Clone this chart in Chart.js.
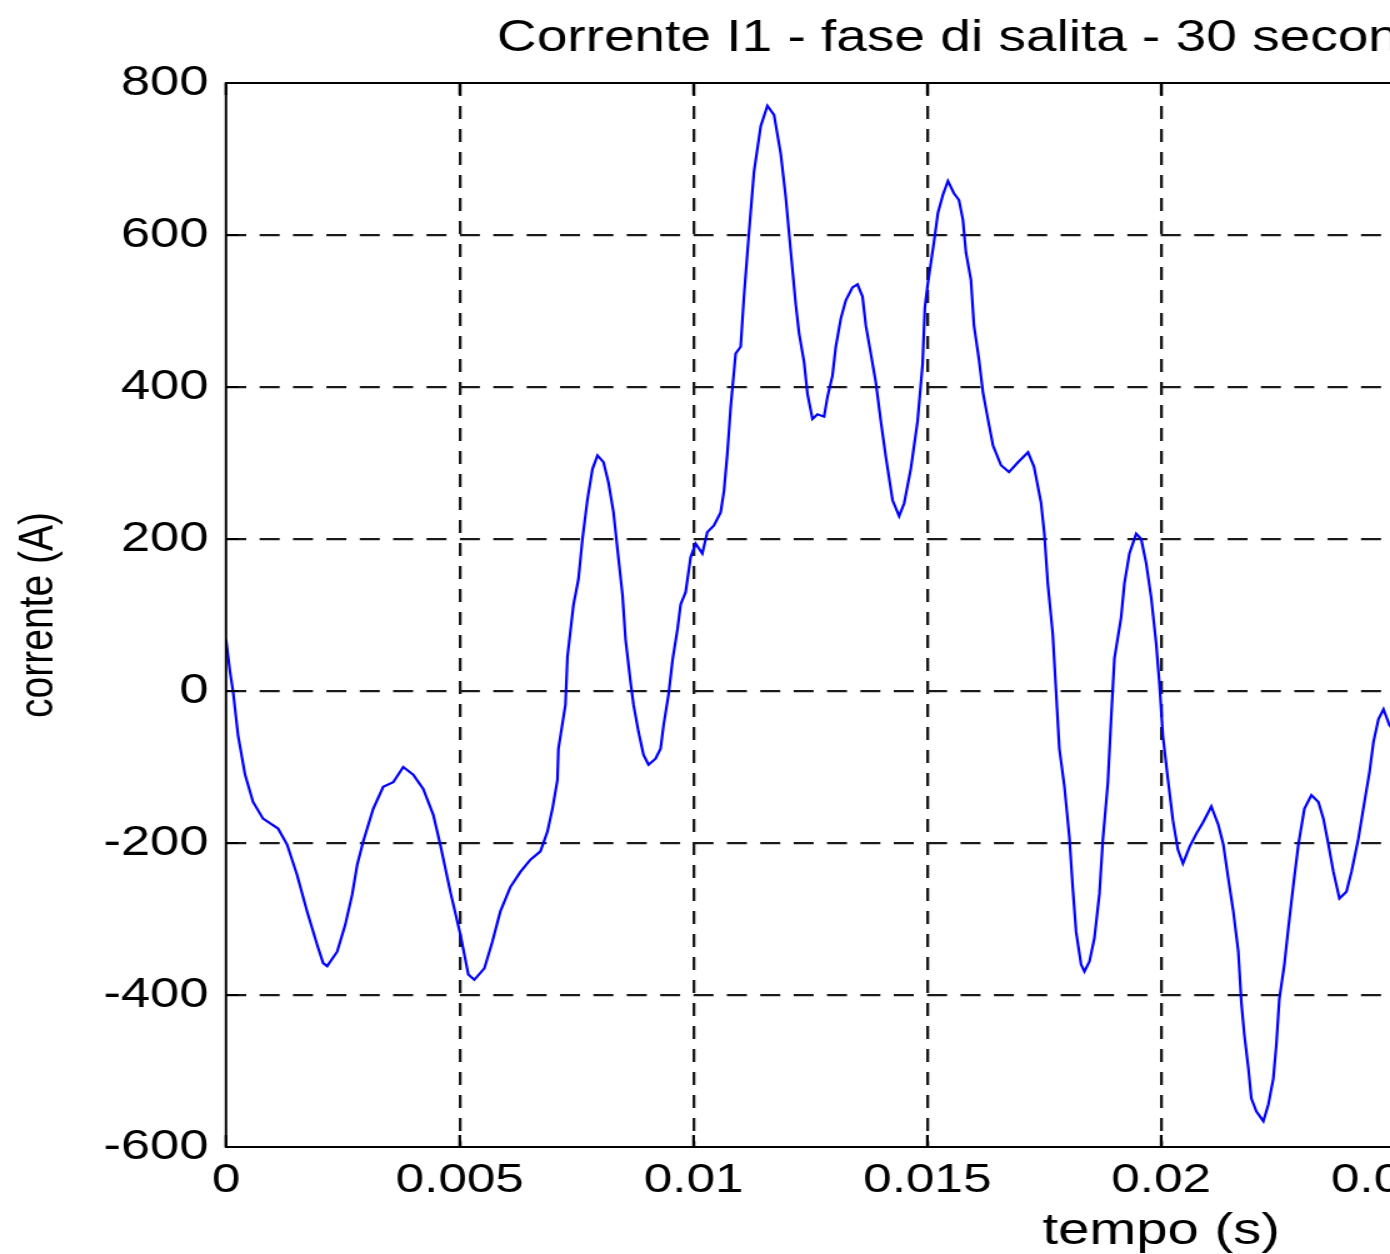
<!DOCTYPE html>
<html>
<head>
<meta charset="utf-8">
<script src="https://cdn.jsdelivr.net/npm/chart.js@4.4.1/dist/chart.umd.min.js"></script>
<style>
  html, body { margin: 0; padding: 0; background: #fff; overflow: hidden; }
  #frame { width: 1390px; height: 1254px; overflow: hidden; position: relative; }
  /* the original figure is stretched sideways, so the whole chart is too */
  #wrap { position: absolute; left: 0; top: 0; transform: scaleX(1.25); transform-origin: 0 0; }
</style>
</head>
<body>
<div id="frame"><div id="wrap"><canvas id="myChart" width="1726" height="1254"></canvas></div></div>
<script>
// time (s) and current (A)
const tempo = [
  0.000000, 0.000086, 0.000150, 0.000257, 0.000407, 0.000578, 0.000792, 0.001113, 0.001306, 0.001520,
  0.001734, 0.001949, 0.002077, 0.002163, 0.002377, 0.002548, 0.002698, 0.002805, 0.002934, 0.003148,
  0.003362, 0.003576, 0.003790, 0.004004, 0.004218, 0.004433, 0.004582, 0.004797, 0.005011, 0.005182,
  0.005310, 0.005525, 0.005696, 0.005867, 0.006081, 0.006296, 0.006510, 0.006724, 0.006874, 0.006981,
  0.007088, 0.007109, 0.007259, 0.007302, 0.007430, 0.007537, 0.007623, 0.007730, 0.007837, 0.007944,
  0.008073, 0.008180, 0.008287, 0.008373, 0.008480, 0.008544, 0.008651, 0.008715, 0.008822, 0.008929,
  0.009036, 0.009186, 0.009293, 0.009358, 0.009465, 0.009550, 0.009657, 0.009722, 0.009829, 0.009936,
  0.010043, 0.010186, 0.010293, 0.010435, 0.010578, 0.010649, 0.010722, 0.010792, 0.010899, 0.011006,
  0.011077, 0.011184, 0.011291, 0.011435, 0.011578, 0.011720, 0.011863, 0.011970, 0.012077, 0.012184,
  0.012255, 0.012362, 0.012435, 0.012542, 0.012649, 0.012790, 0.012863, 0.012970, 0.013041, 0.013148,
  0.013255, 0.013398, 0.013505, 0.013612, 0.013683, 0.013790, 0.013897, 0.014004, 0.014111, 0.014255,
  0.014396, 0.014503, 0.014647, 0.014790, 0.014897, 0.014946, 0.015011, 0.015139, 0.015225, 0.015332,
  0.015439, 0.015567, 0.015675, 0.015760, 0.015824, 0.015931, 0.015996, 0.016103, 0.016188, 0.016296,
  0.016403, 0.016574, 0.016745, 0.016938, 0.017152, 0.017281, 0.017430, 0.017501, 0.017574, 0.017681,
  0.017752, 0.017822, 0.017929, 0.018036, 0.018109, 0.018180, 0.018287, 0.018358, 0.018465, 0.018572,
  0.018679, 0.018752, 0.018859, 0.018929, 0.019000, 0.019143, 0.019214, 0.019321, 0.019465, 0.019572,
  0.019679, 0.019786, 0.019893, 0.019964, 0.020036, 0.020143, 0.020250, 0.020358, 0.020465, 0.020606,
  0.020749, 0.020893, 0.021071, 0.021221, 0.021328, 0.021435, 0.021542, 0.021649, 0.021713, 0.021777,
  0.021863, 0.021927, 0.022034, 0.022184, 0.022291, 0.022398, 0.022463, 0.022527, 0.022634, 0.022719,
  0.022827, 0.022934, 0.023062, 0.023212, 0.023362, 0.023469, 0.023576, 0.023683, 0.023812, 0.023961,
  0.024069, 0.024218, 0.024347, 0.024454, 0.024540, 0.024647, 0.024754, 0.024882, 0.025030
];
const corrente = [
  68, 25, 0, -58, -110, -146, -168, -181, -202, -242,
  -290, -334, -358, -362, -343, -308, -268, -229, -198, -155,
  -126, -120, -100, -110, -129, -163, -202, -264, -320, -373,
  -380, -365, -330, -290, -258, -238, -222, -211, -185, -155,
  -117, -76, -18, 45, 113, 147, 200, 252, 292, 310,
  301, 274, 235, 186, 126, 68, 12, -18, -54, -84,
  -97, -89, -76, -45, -4, 41, 82, 114, 130, 176,
  194, 181, 209, 218, 235, 263, 313, 373, 444, 453,
  519, 603, 683, 743, 770, 758, 707, 650, 579, 509,
  471, 433, 391, 358, 364, 361, 387, 415, 453, 490,
  514, 531, 535, 519, 481, 444, 406, 355, 308, 251,
  230, 247, 293, 355, 430, 505, 537, 590, 629, 653,
  671, 655, 646, 620, 577, 541, 481, 436, 393, 357,
  323, 297, 288, 301, 314, 295, 248, 207, 142, 75,
  -1, -76, -125, -192, -259, -317, -360, -369, -356, -325,
  -267, -196, -121, -37, 43, 97, 142, 181, 207, 200,
  168, 123, 62, 8, -59, -116, -170, -209, -227, -205,
  -188, -173, -152, -176, -202, -247, -290, -343, -409, -452,
  -496, -536, -553, -566, -544, -510, -465, -405, -360, -312,
  -255, -202, -155, -137, -146, -168, -202, -238, -273, -264,
  -238, -194, -146, -107, -67, -37, -24, -45, -55
];

// axis ticks
const xTicks = [0, 0.005, 0.01, 0.015, 0.02, 0.025, 0.03, 0.035, 0.04];
const yTicks = [-600, -400, -200, 0, 200, 400, 600, 800];

const titolo = 'Corrente I1 - fase di salita - 30 secondi';
const font = "'Liberation Sans', Arial, sans-serif";
const gridColor = '#1a1a1a';

// grid lines on the box edges are covered by the box itself
const innerGrid = (edges) => (c) => (c.tick && edges.includes(c.tick.value) ? 'rgba(0,0,0,0)' : gridColor);

// title and the box with the inward ticks, like the matlab figure
const matlabBox = {
  id: 'matlabBox',
  afterDraw(chart) {
    const ctx = chart.ctx;
    const a = chart.chartArea;
    ctx.save();
    ctx.strokeStyle = '#000';
    ctx.lineWidth = 2;
    ctx.strokeRect(a.left, a.top, a.right - a.left, a.bottom - a.top);

    ctx.lineWidth = 2.2;
    chart.scales.x.ticks.forEach(t => {
      const x = chart.scales.x.getPixelForValue(t.value);
      ctx.beginPath();
      ctx.moveTo(x, a.bottom); ctx.lineTo(x, a.bottom - 12);
      ctx.moveTo(x, a.top); ctx.lineTo(x, a.top + 12);
      ctx.stroke();
    });
    ctx.lineWidth = 2;
    chart.scales.y.ticks.forEach(t => {
      const y = chart.scales.y.getPixelForValue(t.value);
      ctx.beginPath();
      ctx.moveTo(a.left, y); ctx.lineTo(a.left + 10, y);
      ctx.stroke();
    });

    ctx.fillStyle = '#000';
    ctx.font = '44px ' + font;
    ctx.textAlign = 'left';
    ctx.textBaseline = 'alphabetic';
    ctx.fillText(titolo, 397.6, 51);
    ctx.restore();
  }
};

const ctx = document.getElementById('myChart');

new Chart(ctx, {
  type: 'line',
  data: {
    datasets: [
      {
        data: tempo.map((t, i) => ({ x: t, y: corrente[i] })),
        borderColor: '#0000ff',
        borderWidth: 2.2,
        pointRadius: 0,
        tension: 0,
        fill: false,
      },
    ],
  },
  options: {
    responsive: false,
    animation: false,
    devicePixelRatio: 1,
    layout: { padding: { left: 0, right: 24.8, top: 83, bottom: 0 } },
    plugins: {
      legend: { display: false },
      tooltip: { enabled: false },
    },
    scales: {
      x: {
        type: 'linear',
        min: 0,
        max: 0.04,
        afterBuildTicks: (scale) => { scale.ticks = xTicks.map(v => ({ value: v })); },
        afterFit: (scale) => { scale.height = 107; },
        ticks: {
          autoSkip: false,
          maxRotation: 0,
          padding: 9,
          color: '#000',
          font: { family: font, size: 41 },
          callback: (v) => String(+v.toFixed(3)),
        },
        grid: { color: innerGrid([0, 0.04]), lineWidth: 2.3, drawTicks: false },
        border: { display: false, dash: [13, 10] },
        title: {
          display: true,
          text: 'tempo (s)',
          color: '#000',
          padding: 0,
          font: { family: font, size: 45, lineHeight: 1 },
        },
      },
      y: {
        min: -600,
        max: 800,
        afterBuildTicks: (scale) => { scale.ticks = yTicks.map(v => ({ value: v })); },
        afterFit: (scale) => { scale.width = 180.8; },
        ticks: {
          autoSkip: false,
          padding: 14,
          color: '#000',
          font: { family: font, size: 42 },
        },
        grid: { color: innerGrid([-600, 800]), lineWidth: 2.3, drawTicks: false },
        border: { display: false, dash: [16, 10.7] },
        title: {
          display: true,
          text: 'corrente (A)',
          color: '#000',
          padding: 12,
          font: { family: font, size: 39, lineHeight: 1 },
        },
      },
    },
  },
  plugins: [matlabBox],
});
</script>
</body>
</html>
